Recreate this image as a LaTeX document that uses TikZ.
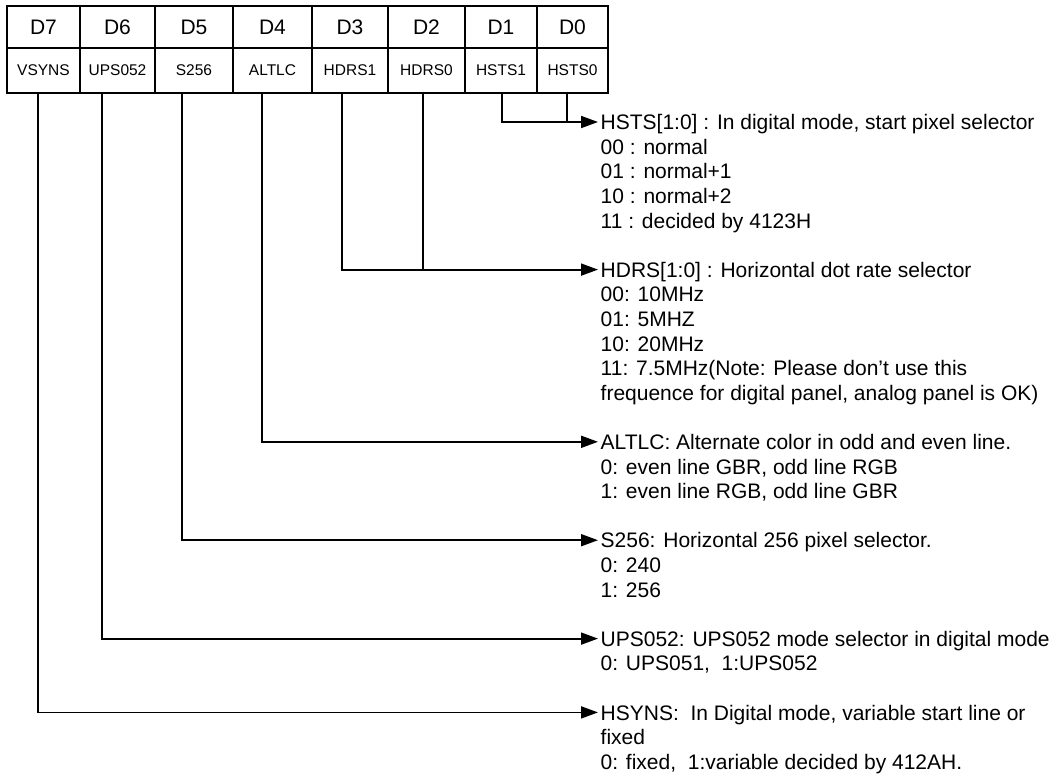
\documentclass[tikz,border=0pt]{standalone}
\usepackage{fontspec}
\setmainfont{Liberation Sans}
\usetikzlibrary{arrows.meta}
% stacked lines of a field description; baseline = first line
\newcommand\desclines[1]{\vtop{\baselineskip=24.6pt\lineskiplimit=-10pt\def\\{\egroup\hbox\bgroup}\hbox\bgroup#1\egroup}}
\begin{document}
\begin{tikzpicture}[x=1pt,y=-1pt,
  bitcell/.style={draw,line width=2pt,inner sep=0pt,minimum height=42pt,font=\fontsize{21pt}{24pt}\selectfont},
  namecell/.style={draw,line width=2pt,inner sep=0pt,minimum height=45pt,font=\fontsize{15.5pt}{18pt}\selectfont},
  wire/.style={line width=1.8pt},
  feed/.style={wire,-{Triangle[length=17pt,width=12pt]}},
  desc/.style={anchor=base west,inner sep=0pt,font=\fontsize{21pt}{24.6pt}\selectfont}]
\useasboundingbox (0,0) rectangle (1062,780);

% register layout: bit row and field-name row
\foreach \i/\bit/\nm/\l/\r/\dx in {7/D7/VSYNS/7/80/-5.5, 6/D6/UPS052/80/155/-15.5,
    5/D5/S256/155/233/-12, 4/D4/ALTLC/233/312/-10.5, 3/D3/HDRS1/312/388/-8,
    2/D2/HDRS0/388/465/-3.5, 1/D1/HSTS1/465/537/1, 0/D0/HSTS0/537/608/-5.5}{
  \pgfmathsetmacro\w{\r-\l}
  \pgfmathsetmacro\cx{(\l+\r)/2}
  \node[bitcell,minimum width=\w pt] (b\i) at (\cx,27) {\bit};
  \node[namecell,minimum width=\w pt] (n\i) at (\cx,70.5) {\nm};
  \coordinate (t\i) at ([xshift=\dx pt]n\i.south);
}

% field descriptions
\node[desc] (dA) at (600.5,129.6) {\desclines{HSTS[1:0] : In digital mode, start pixel selector\\00 : normal\\01 : normal+1\\10 : normal+2\\11 : decided by 4123H}};
\node[desc] (dB) at (600.5,277.2) {\desclines{HDRS[1:0] : Horizontal dot rate selector\\00: 10MHz\\01: 5MHZ\\10: 20MHz\\11: 7.5MHz(Note: Please don’t use this\\frequence for digital panel, analog panel is OK)}};
\node[desc] (dC) at (600.5,449.4) {\desclines{ALTLC: Alternate color in odd and even line.\\0: even line GBR, odd line RGB\\1: even line RGB, odd line GBR}};
\node[desc] (dD) at (600.5,547.8) {\desclines{S256: Horizontal 256 pixel selector.\\0: 240\\1: 256}};
\node[desc] (dE) at (600.5,646.2) {\desclines{UPS052: UPS052 mode selector in digital mode\\0: UPS051,\ \ 1:UPS052}};
\node[desc] (dF) at (600.5,720.0) {\desclines{HSYNS:\ \ In Digital mode, variable start line or\\fixed\\0: fixed,\ \ 1:variable decided by 412AH.}};

% arrow tips, just left of each description
\foreach \d in {A,B,C,D,E,F}
  \coordinate (p\d) at ([xshift=-2.5pt,yshift=7.6pt]d\d.base west);

% connectors from the bit fields
\draw[feed] (t1) |- (pA);
\draw[wire] (t0) -- (t0 |- pA);
\draw[feed] (t3) |- (pB);
\draw[wire] (t2) -- (t2 |- pB);
\draw[feed] (t4) |- (pC);
\draw[feed] (t5) |- (pD);
\draw[feed] (t6) |- (pE);
\draw[feed] (t7) |- (pF);
\end{tikzpicture}
\end{document}
